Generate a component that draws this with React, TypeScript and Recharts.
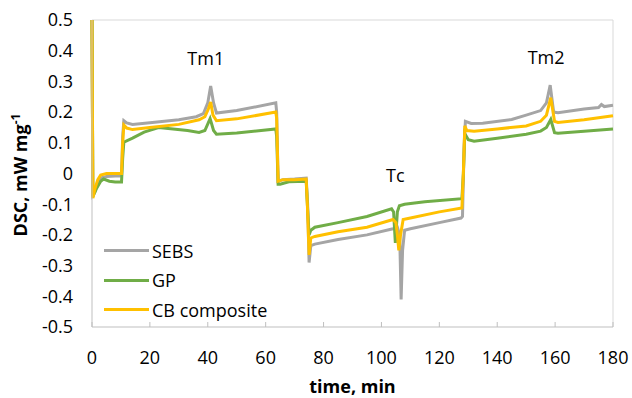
import React from 'react';
import { LineChart, Line, XAxis, YAxis, ReferenceLine, ReferenceDot, Legend, Label } from 'recharts';

// time (min) and DSC (mW/mg), per series
const sebsT = [0, 0.3, 1, 2, 3, 5, 8, 10.2, 10.6, 11, 12, 14, 20, 30, 36, 38.5, 40, 41, 42, 43, 50, 63.5, 63.8, 64.3, 66, 70, 74, 74.5, 75, 75.6, 77, 85, 95, 104, 105.5, 106.3, 106.8, 107.3, 108, 110, 120, 127.5, 128, 128.6, 129, 131, 135, 145, 150, 155, 157, 158.3, 159.5, 161, 170, 175, 176, 177, 180];
const sebsY = [0.5, -0.07, -0.06, -0.03, -0.015, -0.01, -0.008, -0.008, 0.12, 0.172, 0.165, 0.16, 0.165, 0.175, 0.185, 0.195, 0.23, 0.285, 0.23, 0.197, 0.205, 0.23, 0.2, -0.025, -0.02, -0.018, -0.015, -0.1, -0.29, -0.235, -0.23, -0.215, -0.2, -0.18, -0.175, -0.2, -0.41, -0.25, -0.185, -0.18, -0.16, -0.145, -0.14, 0.1, 0.17, 0.163, 0.164, 0.176, 0.19, 0.205, 0.23, 0.288, 0.2, 0.198, 0.21, 0.215, 0.225, 0.218, 0.222];

const gpT = [0, 0.3, 1.5, 3, 4, 6, 8, 10.2, 10.6, 11, 14, 18, 23, 28, 33, 37, 39, 40.8, 42, 43, 50, 63.5, 63.8, 64.3, 65, 68, 74, 74.4, 75, 75.6, 77, 85, 95, 103.5, 104.2, 104.8, 105.5, 106.2, 108, 115, 127.8, 128.3, 128.8, 130, 132, 140, 150, 155, 157, 158.5, 159.8, 161, 170, 180];
const gpY = [0.5, -0.075, -0.05, -0.025, -0.018, -0.025, -0.028, -0.028, 0.05, 0.102, 0.115, 0.135, 0.15, 0.145, 0.14, 0.134, 0.14, 0.179, 0.14, 0.128, 0.132, 0.145, 0.12, -0.035, -0.035, -0.027, -0.025, -0.1, -0.2, -0.185, -0.175, -0.16, -0.14, -0.115, -0.125, -0.226, -0.125, -0.105, -0.1, -0.092, -0.082, 0.0, 0.13, 0.11, 0.105, 0.115, 0.128, 0.138, 0.15, 0.176, 0.133, 0.131, 0.138, 0.145];

const cbT = [0, 0.3, 1, 2, 3, 5, 10.2, 10.6, 11, 12, 14, 20, 30, 37, 39, 40.2, 41, 41.8, 43, 50, 63.5, 63.8, 64.3, 66, 70, 74, 74.4, 75, 75.6, 77, 85, 95, 104, 105, 105.5, 106, 106.6, 107.5, 110, 120, 127.8, 128.3, 128.8, 129.5, 132, 140, 150, 155, 157, 158.5, 159.8, 161, 170, 180];
const cbY = [0.5, -0.08, -0.05, -0.02, -0.005, 0, 0, 0.1, 0.158, 0.148, 0.143, 0.15, 0.16, 0.175, 0.185, 0.21, 0.233, 0.19, 0.172, 0.178, 0.2, 0.18, -0.025, -0.02, -0.02, -0.018, -0.1, -0.265, -0.21, -0.205, -0.19, -0.175, -0.15, -0.16, -0.2, -0.25, -0.2, -0.15, -0.145, -0.125, -0.112, 0.0, 0.155, 0.14, 0.138, 0.145, 0.155, 0.17, 0.19, 0.247, 0.17, 0.166, 0.175, 0.188];

const xTicks = [0, 20, 40, 60, 80, 100, 120, 140, 160, 180];
const yTicks = [-0.5, -0.4, -0.3, -0.2, -0.1, 0, 0.1, 0.2, 0.3, 0.4, 0.5];

const series = [
    { name: 'SEBS', t: sebsT, y: sebsY, color: '#A5A5A5' },
    { name: 'GP', t: gpT, y: gpY, color: '#70AD47' },
    { name: 'CB composite', t: cbT, y: cbY, color: '#FFC000' },
];

const peaks = [
    { label: 'Tm1', t: 39.3, y: 0.373 },
    { label: 'Tc', t: 104.8, y: -0.007 },
    { label: 'Tm2', t: 156.9, y: 0.376 },
];

const font = '"Open Sans", sans-serif';

const LegendBox = () => (
    <div style={{ fontFamily: font, fontSize: 18, color: '#000' }}>
        {series.map((s) => (
            <div key={s.name} style={{ display: 'flex', alignItems: 'center', height: 29.5 }}>
                <div style={{ width: 45, height: 3, background: s.color, marginRight: 3 }} />
                <span>{s.name}</span>
            </div>
        ))}
    </div>
);

const App = () => {
    return (
        <div style={{ position: 'absolute', left: 0, top: 0, background: '#fff' }}>
            <LineChart width={632} height={398} margin={{ top: 20, right: 19, left: 0, bottom: 0 }}>
                <XAxis
                    type="number"
                    dataKey="t"
                    domain={[0, 180]}
                    ticks={xTicks}
                    height={71}
                    stroke="#BFBFBF"
                    tickSize={-5}
                    tickMargin={29}
                    tick={{ fill: '#000', fontSize: 18, fontFamily: font }}
                >
                    <Label
                        content={({ viewBox }: any) => (
                            <text x={viewBox.x + viewBox.width / 2} y={393} textAnchor="middle"
                                fontFamily={font} fontSize={18} fontWeight="bold" fill="#000">
                                time, min
                            </text>
                        )}
                    />
                </XAxis>
                <YAxis
                    type="number"
                    domain={[-0.5, 0.5]}
                    ticks={yTicks}
                    width={92}
                    stroke="#BFBFBF"
                    tickLine={false}
                    tickSize={0}
                    tickMargin={19}
                    tickFormatter={(v: number) => (v === 0 ? '0' : v.toFixed(1))}
                    tick={{ fill: '#000', fontSize: 18, fontFamily: font }}
                >
                    <Label
                        content={() => (
                            <text transform="translate(27,175) rotate(-90)" textAnchor="middle"
                                fontFamily={font} fontSize={18} fontWeight="bold" fill="#000">
                                DSC, mW mg<tspan dy={-7} fontSize={12}>-1</tspan>
                            </text>
                        )}
                    />
                </YAxis>
                <ReferenceLine y={0.5} stroke="#D9D9D9" />
                <ReferenceLine x={180} stroke="#D9D9D9" />
                {series.map((s) => (
                    <Line
                        key={s.name}
                        name={s.name}
                        data={s.t.map((t, i) => ({ t, v: s.y[i] }))}
                        dataKey="v"
                        type="linear"
                        stroke={s.color}
                        strokeWidth={3}
                        dot={false}
                        isAnimationActive={false}
                    />
                ))}
                {peaks.map((p) => (
                    <ReferenceDot key={p.label} x={p.t} y={p.y} r={0} stroke="none"
                        label={{ value: p.label, position: 'center', fill: '#000', fontSize: 18, fontFamily: font }} />
                ))}
                <Legend
                    layout="vertical"
                    align="center"
                    verticalAlign="middle"
                    content={<LegendBox />}
                    wrapperStyle={{ position: 'absolute', left: 104, top: 236, width: 'auto', height: 'auto' }}
                />
            </LineChart>
        </div>
    );
};

export default App;
